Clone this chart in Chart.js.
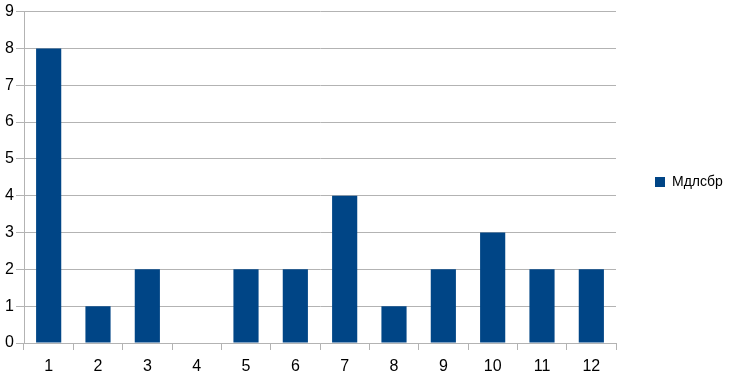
<!DOCTYPE html>
<html>
<head>
<meta charset="utf-8">
<script src="https://cdn.jsdelivr.net/npm/chart.js@4/dist/chart.umd.min.js"></script>
<style>
  html, body { margin: 0; padding: 0; background: #fff; }
  #wrap { width: 730px; height: 376px; position: relative; }
</style>
</head>
<body>
<div id="wrap"><canvas id="myChart" width="730" height="376"></canvas></div>
<script>
const categories = ["1", "2", "3", "4", "5", "6", "7", "8", "9", "10", "11", "12"];
const seriesName = "Мдлсбр";
const seriesValues = [8, 1, 2, 0, 2, 2, 4, 1, 2, 3, 2, 2];
const yTicks = [0, 1, 2, 3, 4, 5, 6, 7, 8, 9];

const barColor = "#004586";
const gridColor = "#b3b3b3";
const fontFamily = "'Liberation Sans', Arial, sans-serif";

// nudges the legend up a bit, LibreOffice puts it a little above the middle
const legendShift = {
  id: "legendShift",
  afterLayout: (chart) => {
    if (chart.legend) {
      chart.legend.top -= 11;
      chart.legend.bottom -= 11;
    }
  },
};

const ctx = document.getElementById("myChart").getContext("2d");
const myChart = new Chart(ctx, {
  type: "bar",
  data: {
    labels: categories,
    datasets: [
      {
        label: seriesName,
        data: seriesValues,
        backgroundColor: barColor,
        borderWidth: 0,
        barPercentage: 0.51,
        categoryPercentage: 1,
      },
    ],
  },
  plugins: [legendShift],
  options: {
    responsive: false,
    animation: false,
    layout: { padding: { top: 10, right: 0, bottom: 0, left: 0 } },
    plugins: {
      legend: {
        position: "right",
        maxWidth: 114,
        labels: {
          boxWidth: 10,
          boxHeight: 10,
          color: "#000",
          padding: 39,
          font: { family: fontFamily, size: 14 },
        },
      },
      tooltip: { enabled: false },
    },
    scales: {
      x: {
        offset: true,
        grid: {
          offset: true,
          drawOnChartArea: false,
          color: gridColor,
          tickLength: 7,
        },
        border: { color: gridColor },
        ticks: {
          color: "#000",
          padding: 7,
          font: { family: fontFamily, size: 16 },
        },
        afterFit: (scale) => { scale.height = 33; },
      },
      y: {
        min: 0,
        max: 9,
        afterBuildTicks: (scale) => { scale.ticks = yTicks.map((v) => ({ value: v })); },
        grid: { color: gridColor, tickLength: 8 },
        border: { color: gridColor },
        ticks: {
          color: "#000",
          padding: 2,
          font: { family: fontFamily, size: 16 },
        },
        afterFit: (scale) => { scale.width = 24; },
      },
    },
  },
});
</script>
</body>
</html>
